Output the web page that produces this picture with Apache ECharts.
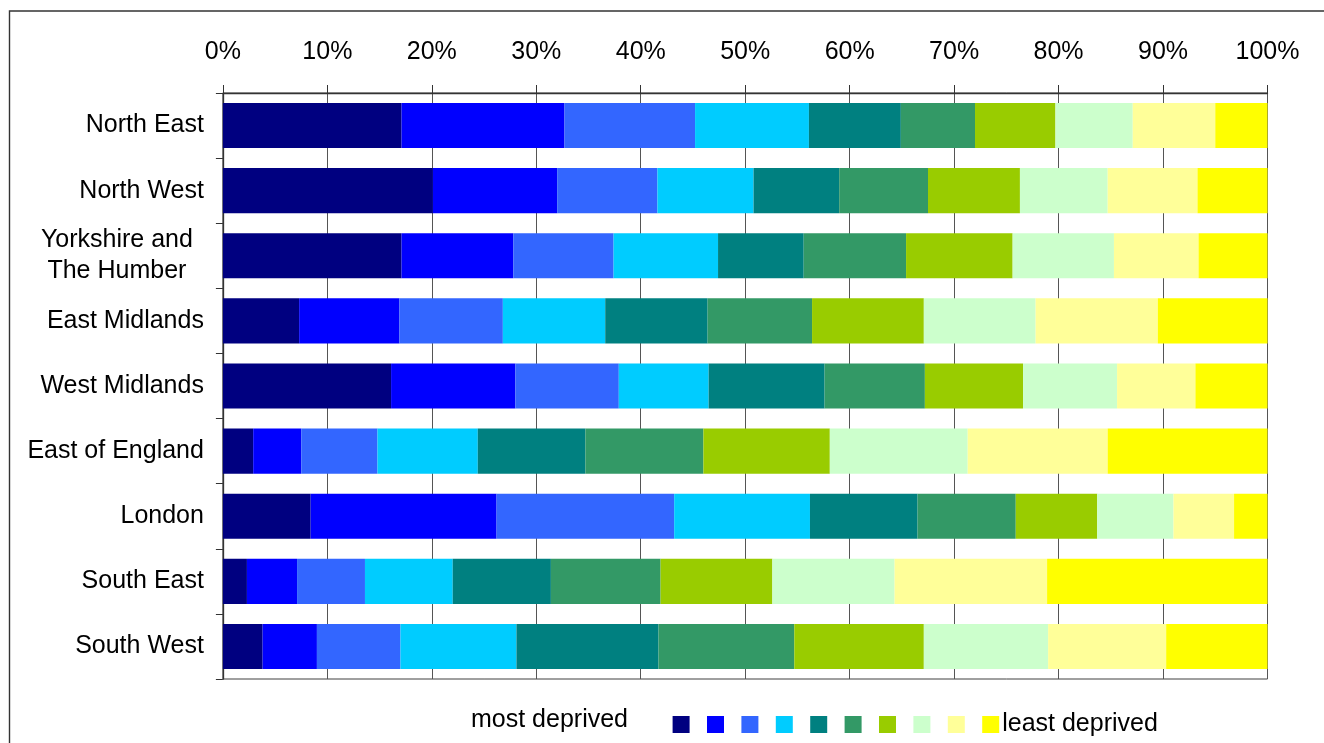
<!DOCTYPE html>
<html>
<head>
<meta charset="utf-8">
<script src="https://cdn.jsdelivr.net/npm/echarts@6/dist/echarts.min.js"></script>
<style>
html,body{margin:0;padding:0;background:#fff;}
#chart{width:1324px;height:743px;}
</style>
</head>
<body>
<div id="chart"></div>
<script>
// Regions (top to bottom)
const regions = ['North East', 'North West', 'Yorkshire and\nThe Humber', 'East Midlands', 'West Midlands', 'East of England', 'London', 'South East', 'South West'];
// Decile shares (%) per region, decile 1 = most deprived ... decile 10 = least deprived
const northEast     = [17.1, 15.6, 12.5, 10.9, 8.8, 7.1, 7.7, 7.4, 7.9, 5.0];
const northWest     = [20.1, 11.9, 9.6, 9.2, 8.2, 8.5, 8.8, 8.4, 8.6, 6.7];
const yorkshire     = [17.1, 10.7, 9.6, 10.0, 8.2, 9.8, 10.2, 9.7, 8.1, 6.6];
const eastMidlands  = [7.3, 9.6, 9.9, 9.8, 9.8, 10.0, 10.7, 10.7, 11.7, 10.5];
const westMidlands  = [16.1, 11.9, 9.9, 8.6, 11.1, 9.6, 9.4, 9.0, 7.5, 6.9];
const eastOfEngland = [2.9, 4.6, 7.3, 9.6, 10.3, 11.3, 12.1, 13.2, 13.4, 15.3];
const london        = [8.4, 17.8, 17.0, 13.0, 10.3, 9.4, 7.8, 7.3, 5.8, 3.2];
const southEast     = [2.3, 4.8, 6.5, 8.4, 9.4, 10.5, 10.7, 11.7, 14.6, 21.1];
const southWest     = [3.8, 5.2, 8.0, 11.1, 13.6, 13.0, 12.4, 11.9, 11.3, 9.7];
const deciles = ['Decile 1', 'Decile 2', 'Decile 3', 'Decile 4', 'Decile 5', 'Decile 6', 'Decile 7', 'Decile 8', 'Decile 9', 'Decile 10'];
const colors = ['#000080', '#0000FF', '#3366FF', '#00CCFF', '#008080', '#339966', '#99CC00', '#CCFFCC', '#FFFF99', '#FFFF00'];
const xTicks = { min: 0, max: 100, interval: 10 };

const regionRows = [northEast, northWest, yorkshire, eastMidlands, westMidlands, eastOfEngland, london, southEast, southWest];
const FONT = 'Liberation Sans, Arial, sans-serif';

const chart = echarts.init(document.getElementById('chart'), null, { renderer: 'canvas' });
const series = deciles.map((name, i) => ({
  name: name,
  type: 'bar',
  stack: 'total',
  barCategoryGap: '30.7%',
  itemStyle: { color: colors[i] },
  emphasis: { disabled: true },
  data: regionRows.map(r => r[i])
}));

chart.setOption({
  animation: false,
  backgroundColor: '#ffffff',
  color: colors,
  grid: {
    left: 222.9, right: 56.5, top: 93, bottom: 64,
    show: true, borderColor: '#404040', borderWidth: 1, backgroundColor: 'transparent'
  },
  xAxis: {
    type: 'value',
    position: 'top',
    min: xTicks.min, max: xTicks.max, interval: xTicks.interval,
    axisLine: { show: true, lineStyle: { color: '#333', width: 1.3 } },
    axisTick: { show: true, inside: false, length: 8, lineStyle: { color: '#333' } },
    axisLabel: { formatter: '{value}%', color: '#000', fontFamily: FONT, fontSize: 25, margin: 28 },
    splitLine: { show: true, lineStyle: { color: '#555', width: 1 } }
  },
  yAxis: {
    type: 'category',
    inverse: true,
    data: regions,
    axisLine: { show: true, lineStyle: { color: '#333', width: 1.3 } },
    axisTick: { show: true, inside: false, length: 7, lineStyle: { color: '#333' } },
    axisLabel: {
      color: '#000', fontFamily: FONT, fontSize: 25, margin: 19, lineHeight: 31,
      formatter: function (v) {
        if (v.indexOf('\n') >= 0) {
          return v.split('\n').map(s => '{c|' + s + '}').join('\n');
        }
        return v;
      },
      rich: { c: { width: 174, align: 'center', fontFamily: FONT, fontSize: 25, lineHeight: 31, color: '#000' } }
    }
  },
  legend: {
    left: 672.6, top: 712, padding: 0,
    itemWidth: 17, itemHeight: 17, itemGap: 17.4,
    icon: 'rect',
    selectedMode: false,
    data: deciles,
    formatter: function (n) { return n === 'Decile 10' ? 'least deprived' : ''; },
    textStyle: { color: '#000', fontFamily: FONT, fontSize: 25, padding: [0, 0, 0, -2] }
  },
  graphic: [
    { type: 'text', left: 471, top: 708, style: { text: 'most deprived', fill: '#000', font: '25px ' + FONT } },
    { type: 'polyline', shape: { points: [[9.5, 800], [9.5, 11], [1400, 11]] }, style: { stroke: '#333', lineWidth: 1.4, fill: null } }
  ],
  series: series
});
</script>
</body>
</html>
